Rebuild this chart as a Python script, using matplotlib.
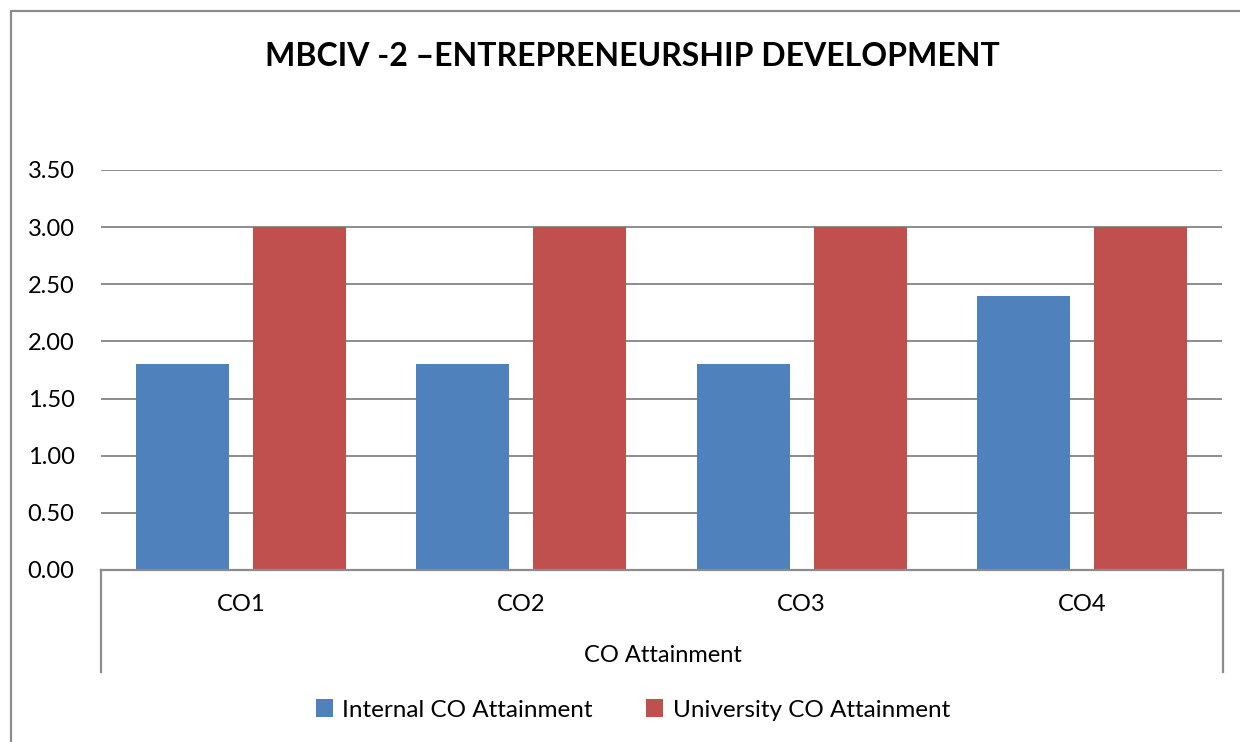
import numpy as np
import matplotlib.pyplot as plt
from matplotlib.patches import Rectangle
from matplotlib.lines import Line2D

plt.rcParams['font.family'] = ['Lato', 'DejaVu Sans']

categories = ['CO1', 'CO2', 'CO3', 'CO4']
internal = [1.8, 1.8, 1.8, 2.4]
university = [3.0, 3.0, 3.0, 3.0]
yticks = [0, 0.5, 1.0, 1.5, 2.0, 2.5, 3.0, 3.5]

W, H = 1240, 742
fig = plt.figure(figsize=(W / 100, H / 100), dpi=100)
ax = fig.add_axes([101 / W, 1 - 570 / H, (1222 - 101) / W, 400 / H])

x = np.arange(len(categories))
bw = 0.332
ax.bar(x - 0.209, internal, bw, color='#4F81BD', label='Internal CO Attainment', zorder=3)
ax.bar(x + 0.209, university, bw, color='#C0504D', label='University CO Attainment', zorder=3)

ax.set_xlim(-0.5, 3.5)
ax.set_ylim(0, 3.5)
ax.set_yticks(yticks)
ax.set_yticklabels([f'{v:.2f}' for v in yticks])
ax.set_xticks(x)
ax.set_xticklabels(categories)
ax.tick_params(axis='y', length=0, pad=19, labelsize=17)
ax.tick_params(axis='x', length=0, pad=17, labelsize=17)
for s in ax.spines.values():
    s.set_visible(False)
ax.grid(axis='y', color='#8c8c8c', linewidth=1.4, zorder=0)

# category axis frame (multi-level style)
gray = '#8c8c8c'
for xp in (101, 1223):
    fig.add_artist(Line2D([xp / W, xp / W], [1 - 570 / H, 1 - 672 / H], color=gray, lw=1.6))
fig.add_artist(Line2D([101 / W, 1223 / W], [1 - 570 / H, 1 - 570 / H], color=gray, lw=1.6, zorder=5))

fig.text(663 / W, 1 - 656 / H, 'CO Attainment', ha='center', va='center', fontsize=17)

fig.text(632 / W, 1 - 56 / H, 'MBCIV -2 \u2013ENTREPRENEURSHIP DEVELOPMENT',
         ha='center', va='center', fontsize=23, fontweight='bold')

fig.legend(loc='center', bbox_to_anchor=(633 / W, 1 - 710 / H), ncol=2, frameon=False,
           fontsize=17.5, handlelength=0.7, handleheight=0.7, handletextpad=0.4, columnspacing=2.2)

fig.add_artist(Rectangle((11 / W, -0.1), 1.2, 1 - 11 / H + 0.1, transform=fig.transFigure,
                         fill=False, edgecolor=gray, lw=1.6))

fig.savefig('out.png', dpi=100)
